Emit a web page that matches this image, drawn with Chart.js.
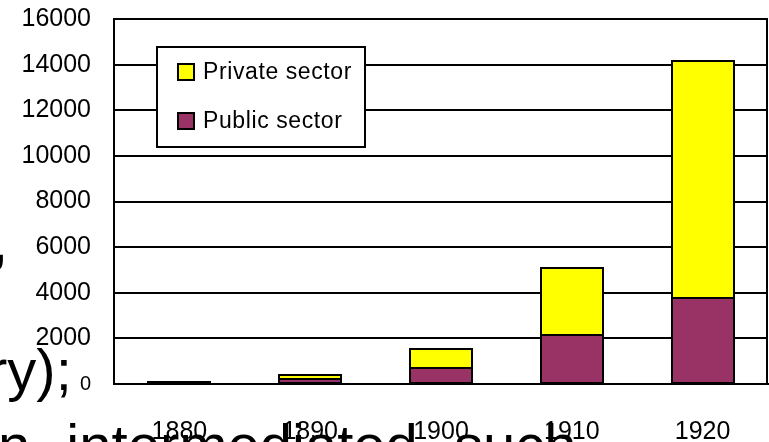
<!DOCTYPE html>
<html>
<head>
<meta charset="utf-8">
<script src="https://cdn.jsdelivr.net/npm/chart.js@4/dist/chart.umd.min.js"></script>
<style>
  html, body { margin: 0; padding: 0; background: #fff; overflow: hidden; }
  #wrap { position: relative; width: 769px; height: 442px; overflow: hidden; }
  canvas { position: absolute; left: 0; top: 0; }
  .bg { position: absolute; font-family: "Liberation Sans", Arial, sans-serif; font-size: 58px; color: #000; white-space: nowrap; pointer-events: none; line-height: 1; }
</style>
</head>
<body>
<div id="wrap">
  <canvas id="c" width="769" height="442"></canvas>
  <div class="bg" id="t1" style="left:-8px; top:212px;">,</div>
  <div class="bg" id="t2" style="left:-12px; top:341px;">ry);</div>
  <div class="bg" id="t3" style="left:-2px; top:416px; word-spacing:20px;">n intermediated such</div>
</div>
<script>
const categories = ['1880', '1890', '1900', '1910', '1920'];
const publicSector = [60, 220, 700, 2160, 3780];
const privateSector = [30, 180, 820, 2940, 10380];
const yTicks = [0, 2000, 4000, 6000, 8000, 10000, 12000, 14000, 16000];
const seriesNames = ['Private sector', 'Public sector'];

const FONT = '"Liberation Sans", Arial, sans-serif';

const outlinePlugin = {
  id: 'barOutline',
  afterDatasetsDraw(chart) {
    const ctx = chart.ctx;
    ctx.save();
    ctx.strokeStyle = '#000';
    ctx.lineWidth = 2;
    chart.data.datasets.forEach((ds, i) => {
      chart.getDatasetMeta(i).data.forEach(el => {
        const p = el.getProps(['x', 'y', 'base', 'width'], true);
        const l = Math.round(p.x - p.width / 2), r = Math.round(p.x + p.width / 2);
        const t = Math.round(Math.min(p.y, p.base)), b = Math.round(Math.max(p.y, p.base));
        ctx.strokeRect(l, t, r - l, b - t);
      });
    });
    ctx.restore();
  }
};

const legendPlugin = {
  id: 'boxLegend',
  afterDatasetsDraw(chart) {
    const ctx = chart.ctx;
    const a = chart.chartArea;
    const x0 = a.left + 43, y0 = a.top + 28, w = 208, h = 100;
    ctx.save();
    ctx.fillStyle = '#fff';
    ctx.fillRect(x0, y0, w, h);
    ctx.strokeStyle = '#000';
    ctx.lineWidth = 2;
    ctx.strokeRect(x0, y0, w, h);
    const items = [
      { label: chart.data.datasets[1].label, color: chart.data.datasets[1].backgroundColor, cy: y0 + 25 },
      { label: chart.data.datasets[0].label, color: chart.data.datasets[0].backgroundColor, cy: y0 + 74 }
    ];
    ctx.font = '23px ' + FONT;
    try { ctx.letterSpacing = '0.6px'; } catch (e) {}
    ctx.textBaseline = 'middle';
    ctx.textAlign = 'left';
    items.forEach(it => {
      ctx.fillStyle = it.color;
      ctx.fillRect(x0 + 21, it.cy - 8, 16, 16);
      ctx.lineWidth = 2;
      ctx.strokeStyle = '#000';
      ctx.strokeRect(x0 + 21, it.cy - 8, 16, 16);
      ctx.fillStyle = '#000';
      ctx.fillText(it.label, x0 + 46, it.cy + 1);
    });
    ctx.restore();
  },
  afterDraw(chart) {
    const ctx = chart.ctx;
    const a = chart.chartArea;
    ctx.save();
    ctx.strokeStyle = '#000';
    ctx.lineWidth = 2;
    ctx.beginPath();
    ctx.moveTo(a.right - 1, a.top - 1);
    ctx.lineTo(a.right - 1, a.bottom + 1);
    ctx.stroke();
    ctx.restore();
  }
};

new Chart(document.getElementById('c'), {
  type: 'bar',
  data: {
    labels: categories,
    datasets: [
      { label: seriesNames[1], data: publicSector, backgroundColor: '#993366', borderWidth: 0, inflateAmount: 0 },
      { label: seriesNames[0], data: privateSector, backgroundColor: '#ffff00', borderWidth: 0, inflateAmount: 0 }
    ]
  },
  options: {
    responsive: false,
    animation: false,
    devicePixelRatio: 1,
    layout: { padding: { top: 19, right: 1, left: 0, bottom: 0 } },
    datasets: { bar: { categoryPercentage: 1, barPercentage: 0.475 } },
    plugins: { legend: { display: false }, tooltip: { enabled: false } },
    scales: {
      x: {
        stacked: true,
        offset: true,
        grid: { display: false, drawTicks: false },
        border: { display: true, color: '#000', width: 2 },
        ticks: { color: '#000', font: { family: FONT, size: 25 }, padding: 33, maxRotation: 0 },
        afterFit(s) { s.height = 58; s.paddingLeft = 0; s.paddingRight = 0; }
      },
      y: {
        stacked: true,
        min: 0,
        max: 16000,
        grid: { color: '#000', lineWidth: 2, drawTicks: false },
        border: { display: true, color: '#000', width: 2 },
        afterBuildTicks(s) { s.ticks = yTicks.map(v => ({ value: v })); },
        ticks: {
          color: '#000',
          padding: 23,
          font: (ctx) => ({ family: FONT, size: (ctx.tick && ctx.tick.value === 0) ? 20 : 25 }),
          callback: (v) => String(v)
        },
        afterFit(s) { s.width = 114; s.paddingTop = 0; s.paddingBottom = 0; }
      }
    }
  },
  plugins: [outlinePlugin, legendPlugin]
});
</script>
</body>
</html>
